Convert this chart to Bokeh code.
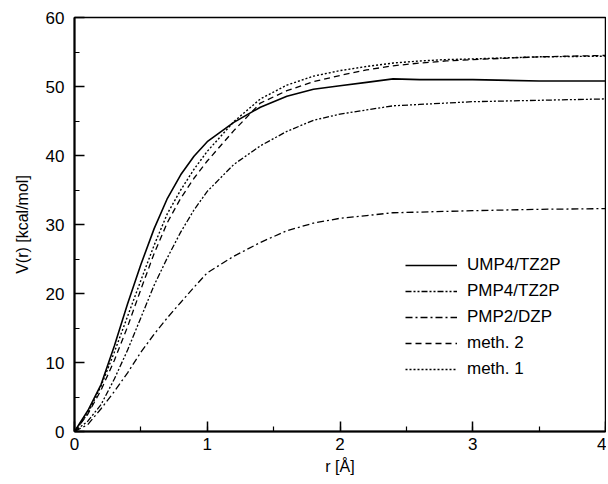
from bokeh.plotting import figure
from bokeh.models import Legend, LegendItem, SingleIntervalTicker, Range1d
from bokeh.embed import file_html
from bokeh.resources import INLINE

r = [0, 0.1, 0.2, 0.3, 0.4, 0.5, 0.6, 0.7, 0.8, 0.9, 1.0, 1.2, 1.4, 1.6, 1.8,
     2.0, 2.2, 2.4, 2.6, 2.8, 3.0, 3.5, 4.0]
ump4_tz2p = [0, 3.0, 6.8, 12.4, 18.5, 24.2, 29.4, 33.8, 37.2, 39.9, 42.0, 44.8,
             47.0, 48.6, 49.6, 50.1, 50.6, 51.1, 51.0, 51.0, 51.0, 50.8, 50.8]
pmp4_tz2p = [0, 1.5, 3.9, 7.6, 11.8, 16.5, 21.2, 25.2, 28.9, 32.1, 34.8, 38.7,
             41.4, 43.5, 45.1, 46.0, 46.6, 47.2, 47.4, 47.6, 47.8, 48.0, 48.2]
pmp2_dzp = [0, 1.0, 3.3, 5.8, 8.5, 11.5, 14.1, 16.5, 18.7, 20.9, 23.0, 25.4,
            27.4, 29.1, 30.2, 30.9, 31.3, 31.7, 31.8, 31.9, 32.0, 32.2, 32.3]
meth2 = [0, 2.5, 6.0, 10.3, 15.2, 20.6, 25.8, 30.3, 33.8, 36.7, 39.2, 43.6,
         47.6, 49.4, 50.7, 51.6, 52.4, 53.0, 53.4, 53.7, 53.9, 54.3, 54.5]
meth1 = [0, 2.6, 6.6, 11.5, 16.7, 21.9, 27.0, 31.6, 35.0, 38.0, 40.6, 44.9,
         48.2, 50.2, 51.5, 52.3, 52.9, 53.4, 53.7, 53.9, 54.0, 54.3, 54.4]

labels = ["UMP4/TZ2P", "PMP4/TZ2P", "PMP2/DZP", "meth. 2", "meth. 1"]
series = [ump4_tz2p, pmp4_tz2p, pmp2_dzp, meth2, meth1]
dashes = ["solid", "6 2 2 2 2 2", "7 3 2 3", "6 4", "2 2"]
widths = [1.6, 1.3, 1.3, 1.3, 1.4]

FONT = "Liberation Sans"

p = figure(width=606, height=477, output_backend="svg", toolbar_location=None,
           x_range=Range1d(0, 4), y_range=Range1d(0, 60),
           min_border_left=74, min_border_right=1, min_border_top=17,
           min_border_bottom=40)
p.grid.visible = False
p.outline_line_color = "black"
p.outline_line_width = 1.5
p.background_fill_color = "white"
p.border_fill_color = "white"

p.xaxis.ticker = SingleIntervalTicker(interval=1, num_minor_ticks=2)
p.yaxis.ticker = SingleIntervalTicker(interval=10, num_minor_ticks=2)
for ax in (p.xaxis[0], p.yaxis[0]):
    ax.axis_line_width = 2
    ax.axis_line_color = "black"
    ax.major_tick_in = 10
    ax.major_tick_out = 0
    ax.minor_tick_in = 5
    ax.minor_tick_out = 0
    ax.major_tick_line_width = 1.5
    ax.minor_tick_line_width = 1.2
    ax.major_tick_line_color = "black"
    ax.minor_tick_line_color = "black"
    ax.major_label_text_font = FONT
    ax.major_label_text_font_size = "17px"
    ax.major_label_text_color = "black"
    ax.axis_label_text_font = FONT
    ax.axis_label_text_font_size = "16px"
    ax.axis_label_text_font_style = "normal"
    ax.axis_label_text_color = "black"

p.xaxis.axis_label = "r [Å]"
p.yaxis.axis_label = "V(r) [kcal/mol]"
p.xaxis.major_label_standoff = 6
p.xaxis.axis_label_standoff = 5
p.yaxis.major_label_standoff = 10
p.yaxis.axis_label_standoff = 12

items = []
for lab, ys, d, w in zip(labels, series, dashes, widths):
    rr = p.line(r, ys, line_color="black", line_width=w, line_dash=d)
    items.append(LegendItem(label=lab, renderers=[rr]))

legend = Legend(items=items, location=(331, 52), glyph_width=52,
                glyph_height=20, label_height=20, spacing=6, padding=0,
                margin=0, label_standoff=10, border_line_color=None,
                background_fill_alpha=0,
                label_text_font=FONT, label_text_font_size="17px",
                label_text_color="black")
p.add_layout(legend, "center")

open("out.html", "w").write(file_html(p, INLINE))
